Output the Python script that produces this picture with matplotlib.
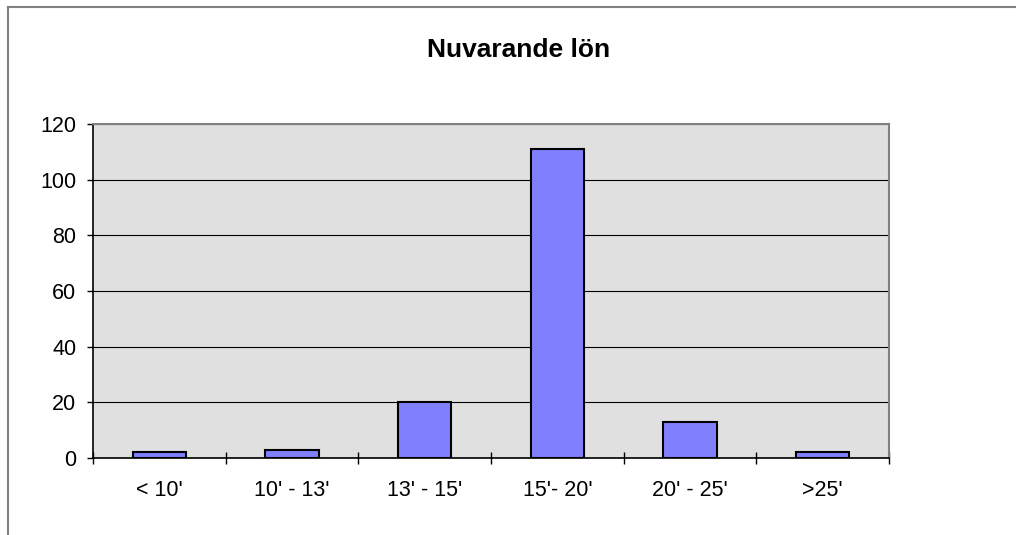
import numpy as np
import matplotlib
matplotlib.use("Agg")
import matplotlib.pyplot as plt
from matplotlib.lines import Line2D

plt.rcParams['font.family'] = ['Liberation Sans', 'DejaVu Sans']

# data
categories = ["< 10'", "10' - 13'", "13' - 15'", "15'- 20'", "20' - 25'", ">25'"]
counts = [2, 3, 20, 111, 13, 2]
title = "Nuvarande lön"

W, H = 1016, 535
fig = plt.figure(figsize=(W / 100, H / 100), dpi=100)
ax = fig.add_axes([93 / W, 1 - 458 / H, (889 - 93) / W, (458 - 124) / H])

ax.set_facecolor('#E0E0E0')
x = np.arange(len(categories))
ax.bar(x, counts, width=0.4, color='#8080FF', edgecolor='black', linewidth=1.5, zorder=3)

ax.set_xlim(-0.5, len(categories) - 0.5)
ax.set_ylim(0, 120)
ax.set_yticks(np.arange(0, 121, 20))
ax.yaxis.grid(True, color='black', linewidth=0.8, zorder=1)
ax.set_axisbelow(True)

# category labels centered, ticks at category boundaries
ax.set_xticks(x)
ax.set_xticklabels(categories, fontsize=15.5)
ax.tick_params(axis='x', which='major', length=0, pad=16)
ax.set_xticks(np.arange(-0.5, len(categories)), minor=True)
ax.tick_params(axis='x', which='minor', direction='inout', length=9, width=1, color='black')
ax.tick_params(axis='y', direction='out', length=4, width=1, pad=8, labelsize=15.5)

for s in ['left', 'bottom']:
    ax.spines[s].set_color('black')
    ax.spines[s].set_linewidth(1.2)
for s in ['top', 'right']:
    ax.spines[s].set_color('#808080')
    ax.spines[s].set_linewidth(1.5)

fig.text(519 / W, 1 - 50 / H, title, ha='center', va='center',
         fontsize=19, fontweight='bold')

# outer chart frame (only left and top visible)
fx, fy = 8 / W, 1 - 7 / H
fig.add_artist(Line2D([fx, fx], [0, fy], transform=fig.transFigure, color='#808080', linewidth=1.5))
fig.add_artist(Line2D([fx, 1], [fy, fy], transform=fig.transFigure, color='#808080', linewidth=1.5))

fig.savefig('out.png', dpi=100)
